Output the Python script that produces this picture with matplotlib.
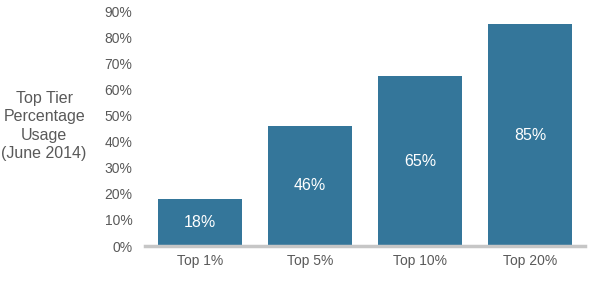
import matplotlib.pyplot as plt
import numpy as np

plt.rcParams["font.family"] = ["Liberation Sans", "DejaVu Sans"]

categories = ["Top 1%", "Top 5%", "Top 10%", "Top 20%"]
values = [18, 46, 65, 85]
bar_labels = ["18%", "46%", "65%", "85%"]
yticks = [0, 10, 20, 30, 40, 50, 60, 70, 80, 90]

bar_color = "#34769a"
text_gray = "#595959"

fig = plt.figure(figsize=(6.05, 2.9), dpi=100)
ax = fig.add_axes([0.2397, 0.1517, 0.7273, 0.8103])

x = np.arange(len(categories))
bars = ax.bar(x, values, width=0.76, color=bar_color, zorder=2)

for rect, lab in zip(bars, bar_labels):
    ax.text(rect.get_x() + rect.get_width() / 2, rect.get_height() / 2, lab,
            ha="center", va="center", color="white", fontsize=11.5)

ax.set_xlim(-0.5, 3.5)
ax.set_ylim(0, 90)
ax.set_yticks(yticks)
ax.set_yticklabels([f"{t}%" for t in yticks])
ax.set_xticks(x)
ax.set_xticklabels(categories)

for s in ["top", "right", "left"]:
    ax.spines[s].set_visible(False)
ax.spines["bottom"].set_color("#c6c6c6")
ax.spines["bottom"].set_linewidth(2.5)
ax.spines["bottom"].set_zorder(3)

ax.tick_params(axis="both", length=0, labelsize=10, labelcolor=text_gray)
ax.tick_params(axis="y", pad=9)
ax.tick_params(axis="x", pad=6)

fig.text(0.073, 0.566, "Top Tier\nPercentage\nUsage\n(June 2014)", ha="center",
         va="center", fontsize=11.5, color=text_gray, linespacing=1.28)

fig.savefig("out.png", dpi=100)
